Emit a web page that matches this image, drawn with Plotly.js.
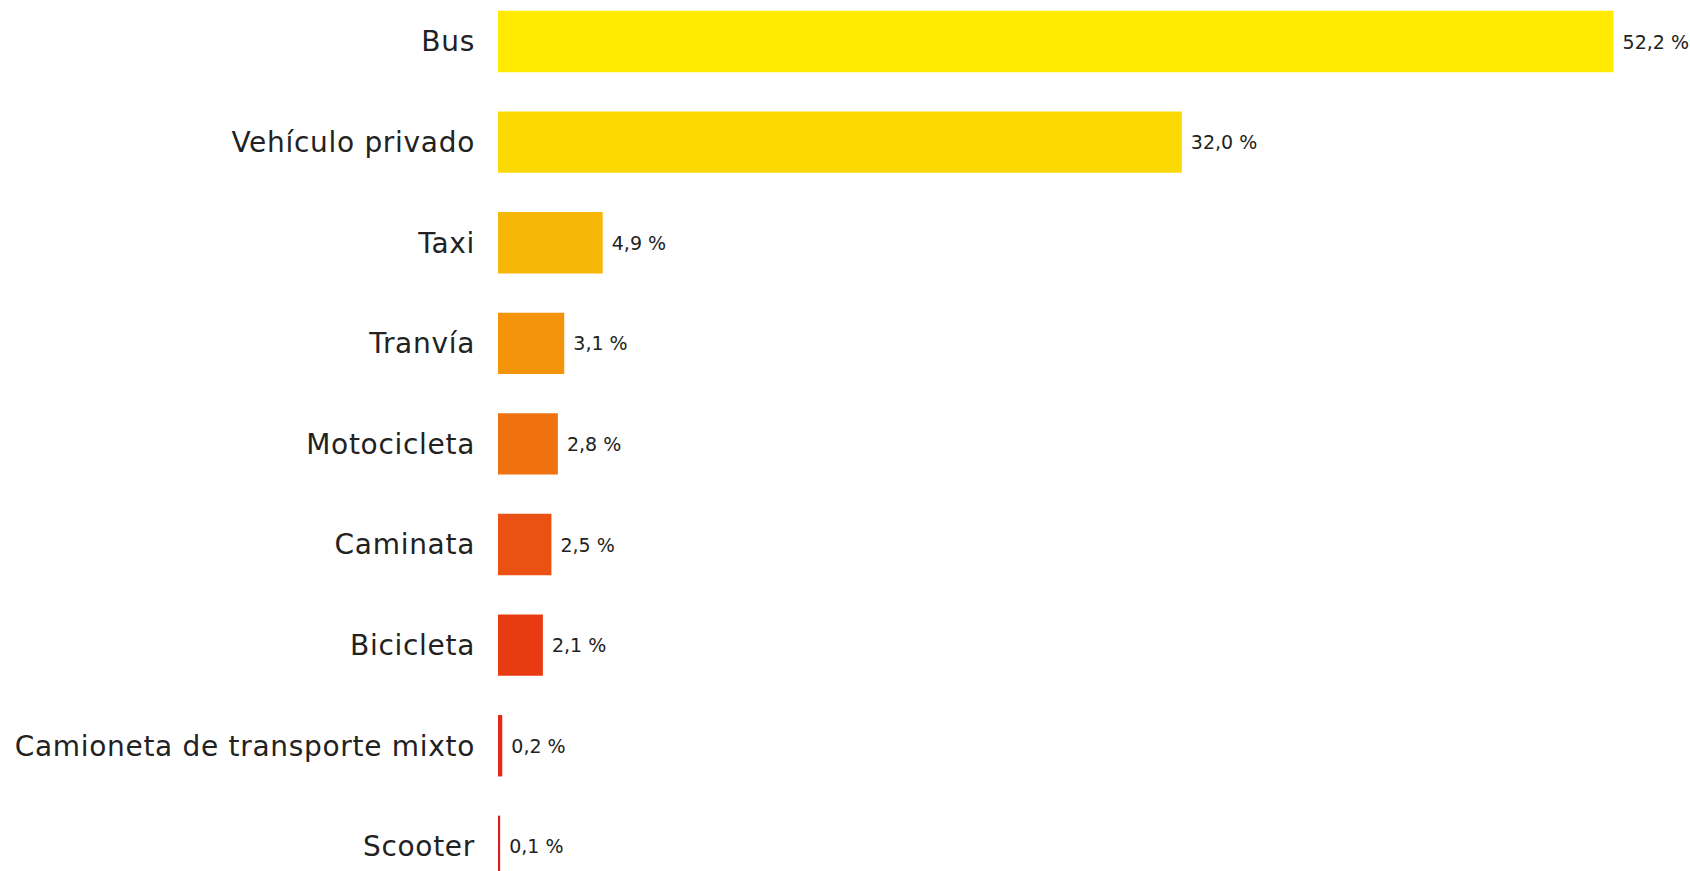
<!DOCTYPE html>
<html>
<head>
<meta charset="utf-8">
<script src="https://cdn.plot.ly/plotly-3.0.1.min.js"></script>
<style>html,body{margin:0;padding:0;background:#fff;}#chart{width:1690px;height:871px;}
#chart .ytick text{letter-spacing:0.7px;}</style>
</head>
<body>
<div id="chart"></div>
<script>
const categories = ["Bus","Vehículo privado","Taxi","Tranvía","Motocicleta","Caminata","Bicicleta","Camioneta de transporte mixto","Scooter"];
const values = [52.2, 32.0, 4.9, 3.1, 2.8, 2.5, 2.1, 0.2, 0.1];
const colors = ["#FFEA00","#FCD900","#F7B706","#F3940A","#EF720E","#EB5112","#E83B12","#E52818","#DC1A22"];
const labels = values.map(v => '\u00A0' + v.toFixed(1).replace('.', ',') + ' %');

const trace = {
  type: 'bar',
  orientation: 'h',
  x: values,
  y: categories,
  text: labels,
  textposition: 'outside',
  cliponaxis: false,
  textfont: {family: 'DejaVu Sans, sans-serif', size: 19, color: '#222222'},
  marker: {color: colors},
  hoverinfo: 'none'
};

const layout = {
  width: 1690,
  height: 871,
  margin: {l: 498, r: 0, t: 0, b: 0},
  paper_bgcolor: '#ffffff',
  plot_bgcolor: '#ffffff',
  showlegend: false,
  bargap: 0.39,
  xaxis: {range: [0, 55.78], visible: false, fixedrange: true},
  yaxis: {
    type: 'category',
    range: [8.245, -0.4125],
    automargin: false,
    showgrid: false,
    zeroline: false,
    showline: false,
    ticks: '',
    ticklabelstandoff: 22,
    tickfont: {family: 'DejaVu Sans, sans-serif', size: 28, color: '#222222'}
  }
};

Plotly.newPlot('chart', [trace], layout, {displayModeBar: false, staticPlot: true});
</script>
</body>
</html>
